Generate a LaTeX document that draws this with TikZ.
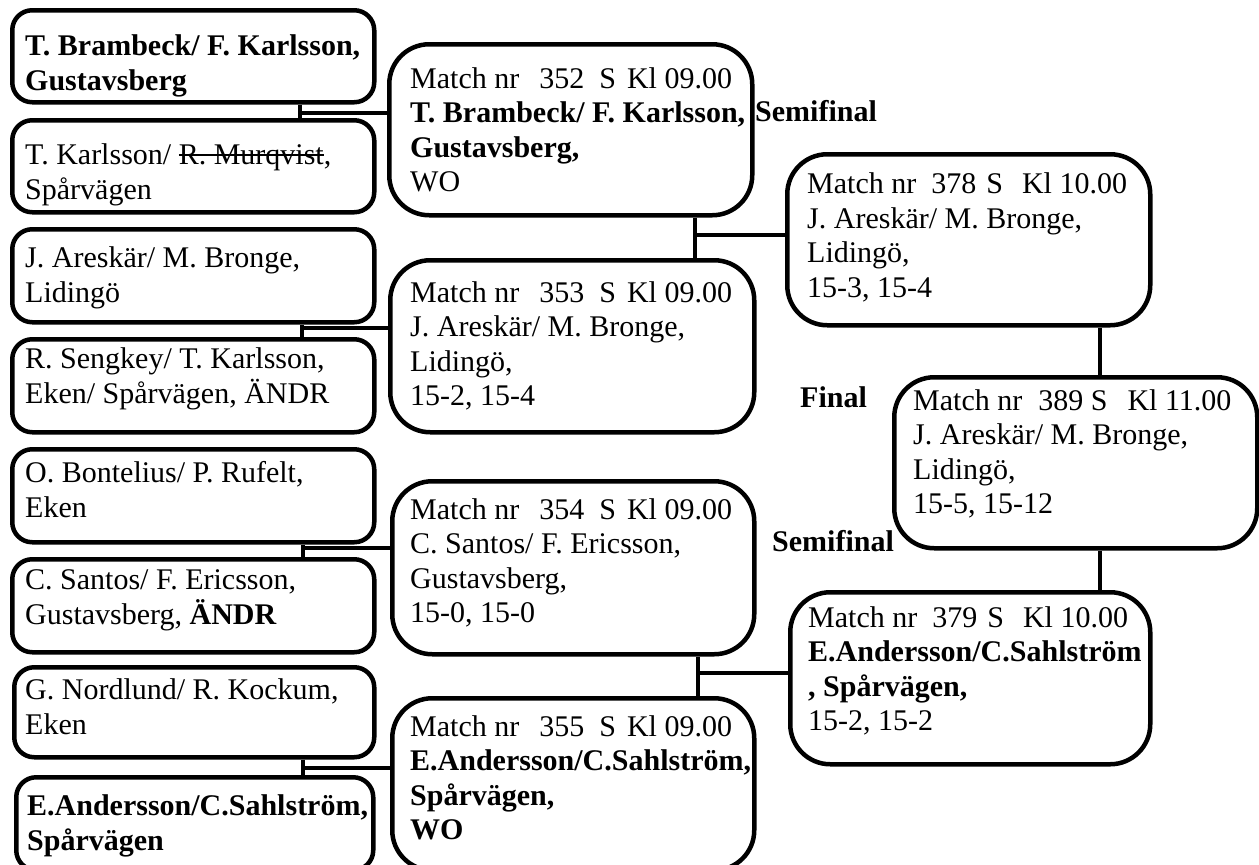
\documentclass[tikz,border=0pt]{standalone}
\usepackage{fontspec}
\setmainfont{Liberation Serif}
\newlength\strkw
\newcommand\strk[1]{\settowidth{\strkw}{#1}\rlap{\rule[9pt]{\strkw}{2pt}}#1}
\tikzset{
  lbox/.style={draw, line width=4.5pt, rounded corners=20pt, anchor=north west, inner sep=0pt},
  mbox/.style={draw, line width=4.5pt, rounded corners=40pt, anchor=north west, inner sep=0pt},
  txt/.style={anchor=north west, inner sep=0pt, align=left, yshift=18pt,
    font=\fontsize{30}{35}\selectfont, execute at begin node={\rule{0pt}{25pt}}},
  btxt/.style={txt, font=\fontsize{30}{35}\selectfont\bfseries},
  mtxt/.style={txt, font=\fontsize{30}{34.5}\selectfont},
  lab/.style={anchor=base west, inner sep=0pt, font=\fontsize{30}{35}\selectfont\bfseries},
  conn/.style={line width=4pt}
}
\begin{document}
\begin{tikzpicture}[x=1pt,y=-1pt]
\useasboundingbox (0,0) rectangle (1259,865);
\clip (0,0) rectangle (1259,865);
% left column boxes
\node[lbox, minimum width=362pt, minimum height=92pt] (L1) at (10,8) {};
\node[lbox, minimum width=362pt, minimum height=92pt] (L2) at (10,118) {};
\node[lbox, minimum width=362pt, minimum height=93pt] (L3) at (10,227) {};
\node[lbox, minimum width=362pt, minimum height=93pt] (L4) at (10,337) {};
\node[lbox, minimum width=362pt, minimum height=93pt] (L5) at (10,447) {};
\node[lbox, minimum width=362pt, minimum height=93pt] (L6) at (10,557) {};
\node[lbox, minimum width=360pt, minimum height=90pt] (L7) at (12,665) {};
\node[lbox, minimum width=357pt, minimum height=93pt] (L8) at (14,775) {};
% match boxes
\node[mbox, minimum width=363pt, minimum height=171pt] (M352) at (387,42) {};
\node[mbox, minimum width=364pt, minimum height=172pt] (M353) at (388,258) {};
\node[mbox, minimum width=362pt, minimum height=173pt] (M354) at (390,479) {};
\node[mbox, minimum width=362pt, minimum height=172pt] (M355) at (390,696) {};
\node[mbox, minimum width=363pt, minimum height=171pt] (M378) at (785,152) {};
\node[mbox, minimum width=363pt, minimum height=171pt] (M389) at (892,375) {};
\node[mbox, minimum width=360pt, minimum height=172pt] (M379) at (788,590) {};
% texts of left boxes
\node[btxt] (tL1) at (25,52) {T. Brambeck/ F. Karlsson,\\Gustavsberg};
\node[txt] (tL2) at (25,161.5) {T. Karlsson/ \strk{R. Murqvist},\\Spårvägen};
\node[txt] (tL3) at (25,264.5) {J. Areskär/ M. Bronge,\\Lidingö};
\node[txt] (tL4) at (25,365.5) {R. Sengkey/ T. Karlsson,\\Eken/ Spårvägen, ÄNDR};
\node[txt] (tL5) at (25,479) {O. Bontelius/ P. Rufelt,\\Eken};
\node[txt] (tL6) at (25,587.5) {C. Santos/ F. Ericsson,\\Gustavsberg, \textbf{ÄNDR}};
\node[txt] (tL7) at (25,696) {G. Nordlund/ R. Kockum,\\Eken};
\node[btxt] (tL8) at (27,812) {E.Andersson/C.Sahlström,\\Spårvägen};
% texts of match boxes
\node[mtxt] (t352) at (410,85) {Match nr\hspace{20pt}352\hspace{15pt}S\hspace{11pt}Kl 09.00\\\textbf{T. Brambeck/ F. Karlsson,}\\\textbf{Gustavsberg,}\\WO};
\node[mtxt] (t353) at (410,299) {Match nr\hspace{20pt}353\hspace{15pt}S\hspace{11pt}Kl 09.00\\J. Areskär/ M. Bronge,\\Lidingö,\\15-2, 15-4};
\node[mtxt] (t354) at (410,516) {Match nr\hspace{20pt}354\hspace{15pt}S\hspace{11pt}Kl 09.00\\C. Santos/ F. Ericsson,\\Gustavsberg,\\15-0, 15-0};
\node[mtxt] (t355) at (410,733) {Match nr\hspace{20pt}355\hspace{15pt}S\hspace{11pt}Kl 09.00\\\textbf{E.Andersson/C.Sahlström,}\\\textbf{Spårvägen,}\\\textbf{WO}};
\node[mtxt] (t378) at (807,190.5) {Match nr\hspace{15pt}378\hspace{10pt}S\hspace{19pt}Kl 10.00\\J. Areskär/ M. Bronge,\\Lidingö,\\15-3, 15-4};
\node[mtxt] (t389) at (913,407) {Match nr\hspace{16pt}389 S\hspace{20pt}Kl 11.00\\J. Areskär/ M. Bronge,\\Lidingö,\\15-5, 15-12};
\node[mtxt] (t379) at (808,624) {Match nr\hspace{15pt}379\hspace{10pt}S\hspace{19pt}Kl 10.00\\\textbf{E.Andersson/C.Sahlström}\\\textbf{, Spårvägen,}\\15-2, 15-2};
% round labels
\node[lab] (semi1) at (755,121) {Semifinal};
\node[lab] (final) at (800,407) {Final};
\node[lab] (semi2) at (772,551) {Semifinal};
% connectors
\coordinate (j1) at (300,113);
\coordinate (j2) at (302,328);
\coordinate (j3) at (303,548);
\coordinate (j4) at (303,768);
\coordinate (j5) at (695,235);
\coordinate (j6) at (698,673);
\coordinate (j7) at (1100,0);
\draw[conn] (j1 |- L1.south) -- (j1 |- L2.north);
\draw[conn] (j1) -- (j1 -| M352.west);
\draw[conn] (j2 |- L3.south) -- (j2 |- L4.north);
\draw[conn] (j2) -- (j2 -| M353.west);
\draw[conn] (j3 |- L5.south) -- (j3 |- L6.north);
\draw[conn] (j3) -- (j3 -| M354.west);
\draw[conn] (j4 |- L7.south) -- (j4 |- L8.north);
\draw[conn] (j4) -- (j4 -| M355.west);
\draw[conn] (j5 |- M352.south) -- (j5 |- M353.north);
\draw[conn] (j5) -- (j5 -| M378.west);
\draw[conn] (j6 |- M354.south) -- (j6 |- M355.north);
\draw[conn] (j6) -- (j6 -| M379.west);
\draw[conn] (j7 |- M378.south) -- (j7 |- M389.north);
\draw[conn] (j7 |- M389.south) -- (j7 |- M379.north);
\end{tikzpicture}
\end{document}
